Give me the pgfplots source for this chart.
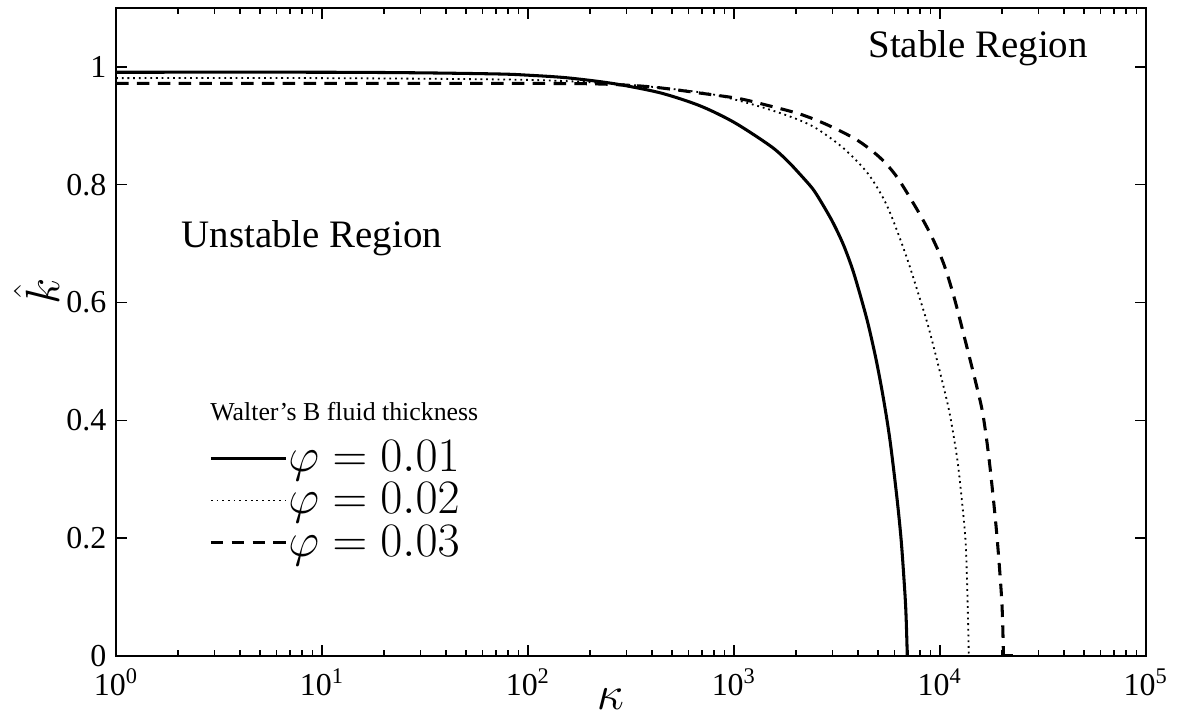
\documentclass[border=0pt]{standalone}
\usepackage{fontspec}
\setmainfont{Liberation Serif}
\usepackage{pgfplots}
\pgfplotsset{compat=1.18}
\usetikzlibrary{calc}
\begin{document}
\begin{tikzpicture}
\begin{axis}[
  xmode=log, xmin=1, xmax=1e5, ymin=0, ymax=1.1,
  scale only axis, width=370.8pt, height=233.3pt,
  axis line style={line width=0.6pt},
  xtick={1,10,100,1000,10000,100000},
  xticklabels={10\textsuperscript{0},10\textsuperscript{1},10\textsuperscript{2},10\textsuperscript{3},10\textsuperscript{4},10\textsuperscript{5}},
  minor xtick={2,3,4,5,6,7,8,9,20,30,40,50,60,70,80,90,200,300,400,500,600,700,800,900,2000,3000,4000,5000,6000,7000,8000,9000,20000,30000,40000,50000,60000,70000,80000,90000},
  ytick={0,0.2,0.4,0.6,0.8,1},
  yticklabels={0,0.2,0.4,0.6,0.8,1},
  tick align=inside, major tick length=4pt, minor tick length=2pt,
  tick style={line width=0.5pt, black},
  ticklabel style={font=\fontsize{11.5}{12}\selectfont},
  xticklabel style={yshift=-1pt},
  xlabel={$\kappa$}, ylabel={$\hat{k}$},
  xlabel style={at={(axis description cs:0.48,-0.066)}, anchor=center, font=\fontsize{19}{19}\selectfont, inner sep=0pt},
  ylabel style={at={(axis description cs:-0.077,0.562)}, anchor=center, font=\fontsize{18}{18}\selectfont, inner sep=0pt},
  legend image code/.code={\draw[#1] (0pt,0pt) -- (27pt,0pt);},
  legend style={draw=none, fill=none, at={(axis description cs:0.09,0.335)}, anchor=north west,
    font=\fontsize{18}{18}\selectfont, row sep=1.8pt, inner sep=0pt, nodes={inner sep=0.4pt}},
  legend cell align=left,
]
\addplot[black, line width=1.1pt, smooth, tension=0.5] coordinates {
(1,0.991)(10,0.991)(30,0.990)(73,0.988)(100,0.986)(150,0.982)(224,0.975)(300,0.968)(450,0.955)(684,0.934)(1000,0.906)(1500,0.866)(1800,0.842)(2089,0.818)(2400,0.794)(2616,0.774)(3000,0.738)(3380,0.700)(3750,0.658)(4090,0.614)(4467,0.565)(4898,0.503)(5309,0.438)(5715,0.367)(6166,0.272)(6486,0.195)(6761,0.105)(6855,0.062)(6940,0)
};
\addlegendentry{$\varphi = 0.01$}
\addplot[black, line width=0.65pt, dash pattern=on 0.65pt off 1.4pt, smooth, tension=0.5] coordinates {
(1,0.981)(10,0.981)(100,0.978)(300,0.970)(684,0.957)(1000,0.945)(1445,0.929)(2000,0.912)(2529,0.895)(3400,0.862)(4424,0.821)(5290,0.778)(5916,0.740)(6920,0.675)(7900,0.612)(8940,0.549)(10780,0.435)(11500,0.385)(12270,0.321)(13220,0.209)(13500,0.140)(13720,0.045)(13800,0)
};
\addlegendentry{$\varphi = 0.02$}
\addplot[black, line width=1.1pt, dash pattern=on 4.5pt off 3pt, smooth, tension=0.5] coordinates {
(1,0.972)(10,0.972)(100,0.972)(224,0.971)(400,0.966)(740,0.954)(1069,0.946)(1445,0.935)(2089,0.920)(2826,0.902)(3955,0.876)(5115,0.846)(6186,0.813)(7710,0.759)(9000,0.716)(10370,0.668)(11600,0.614)(12970,0.549)(15630,0.435)(16500,0.390)(17490,0.321)(18850,0.209)(19950,0.095)(20290,0.015)(20300,0)
};
\addlegendentry{$\varphi = 0.03$}
\addplot[black, line width=0.65pt, dash pattern=on 0.65pt off 1.4pt, forget plot] coordinates {(13800,0)(15500,0)};
\addplot[black, line width=1.1pt, dash pattern=on 4.5pt off 3pt, forget plot] coordinates {(20300,0)(22500,0)};
\node[anchor=west, font=\fontsize{9.3}{11}\selectfont, inner sep=0pt] at (axis description cs:0.091,0.377) {Walter's B fluid thickness};
\node[font=\fontsize{14}{16}\selectfont, inner sep=0pt] at (axis description cs:0.190,0.645) {Unstable Region};
\node[font=\fontsize{14}{16}\selectfont, inner sep=0pt] at (axis description cs:0.837,0.938) {Stable Region};
\end{axis}
\pgfresetboundingbox
\path ($(current axis.south west)+(-41.8pt,-22pt)$) rectangle ($(current axis.north east)+(13.7pt,2.9pt)$);
\end{tikzpicture}
\end{document}
